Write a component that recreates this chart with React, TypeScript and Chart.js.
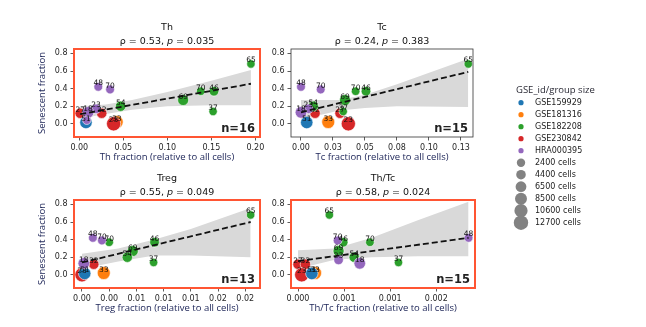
import React, { useEffect, useRef } from 'react';
import { Chart, registerables } from 'chart.js';

Chart.register(...registerables);

const SANS = "'DejaVu Sans', sans-serif";
const HUMANIST = "'Open Sans', sans-serif";

// Dataset colours
const groupNames = ['GSE159929', 'GSE181316', 'GSE182208', 'GSE230842', 'HRA000395'];
const groupColors = ['#1f77b4', '#ff7f0e', '#2ca02c', '#d62728', '#9467bd'];

// Samples (later entries are drawn on top)
const sampleGroup = [1, 3, 3, 3, 0, 2, 2, 2, 2, 2, 2, 4, 4, 4, 4, 4];
const sampleTag = ['33', '27', '32', '23', '51', '65', '70', '46', '37', '69', '54', '48', '70', '23', '18', ''];
const senescentFraction = [0.02, 0.12, 0.12, 0.0, 0.015, 0.68, 0.37, 0.37, 0.14, 0.27, 0.2, 0.42, 0.39, 0.17, 0.13, 0.04];
const groupCells = [10300, 5800, 5800, 12400, 9300, 2400, 2700, 4500, 2400, 6900, 5800, 3100, 3100, 4500, 7900, 2400];

// Immune-cell fractions per sample (null = sample not in panel)
const thFraction = [0.0425, 0.001, 0.0255, 0.039, 0.0076, 0.195, 0.138, 0.153, 0.152, 0.118, 0.047, 0.0216, 0.035, 0.019, 0.01, 0.0085];
const tcFraction = [0.0213, 0.0305, 0.011, 0.037, 0.0045, 0.1307, 0.0427, 0.0508, 0.033, 0.0344, 0.0096, 0.0, 0.0154, 0.0057, 0.0, null];
const tregFraction = [0.0024, null, 0.0013, 0.0, 0.0003, 0.0186, 0.003, 0.008, 0.0079, 0.0056, 0.005, 0.0012, 0.0022, null, 0.0002, null];
const thTcFraction = [0.000185, 0.0, 0.00008, 0.00004, 0.00015, 0.00034, 0.00078, 0.00049, 0.00109, 0.00044, 0.00061, 0.00185, 0.00043, 0.00044, 0.00067, null];

// Panel titles and correlation statistics
const panelNames = ['Th', 'Tc', 'Treg', 'Th/Tc'];
const panelRho = ['0.53', '0.24', '0.55', '0.58'];
const panelP = ['0.035', '0.383', '0.049', '0.024'];

// Axis ranges and ticks
const yRange = [-0.15, 0.85];
const yTicks = [0, 0.2, 0.4, 0.6, 0.8];
const yTickLabels = ['0.0', '0.2', '0.4', '0.6', '0.8'];

const thXRange = [-0.006, 0.2053];
const thXTicks = [0, 0.05, 0.1, 0.15, 0.2];
const thXTickLabels = ['0.00', '0.05', '0.10', '0.15', '0.20'];
const tcXRange = [-0.0078, 0.1344];
const tcXTicks = [0, 0.025, 0.05, 0.075, 0.1, 0.125];
const tcXTickLabels = ['0.00', '0.03', '0.05', '0.08', '0.10', '0.13'];
const tregXRange = [-0.00088, 0.01963];
const tregXTicks = [0, 0.003, 0.006, 0.009, 0.012, 0.015, 0.018];
const tregXTickLabels = ['0.00', '0.00', '0.01', '0.01', '0.01', '0.02', '0.02'];
const thTcXRange = [-0.000076, 0.00192];
const thTcXTicks = [0, 0.0005, 0.001, 0.0015];
const thTcXTickLabels = ['0.000', '0.001', '0.001', '0.002'];

// Regression fits (end points) and confidence bands
const thFitX = [0.001, 0.195];
const thFitY = [0.11, 0.455];
const thBandX = [0.001, 0.03, 0.06, 0.1, 0.15, 0.195];
const thBandLo = [0.06, 0.11, 0.16, 0.2, 0.21, 0.21];
const thBandHi = [0.2, 0.22, 0.27, 0.36, 0.49, 0.61];

const tcFitX = [0.0, 0.1307];
const tcFitY = [0.13, 0.59];
const tcBandX = [0.0, 0.03, 0.05, 0.075, 0.1307];
const tcBandLo = [0.05, 0.15, 0.18, 0.2, 0.19];
const tcBandHi = [0.27, 0.27, 0.33, 0.45, 0.74];

const tregFitX = [0.0, 0.0186];
const tregFitY = [0.14, 0.6];
const tregBandX = [0.0, 0.004, 0.008, 0.012, 0.0186];
const tregBandLo = [0.07, 0.15, 0.22, 0.22, 0.2];
const tregBandHi = [0.24, 0.3, 0.4, 0.52, 0.76];

const thTcFitX = [0.0, 0.00185];
const thTcFitY = [0.155, 0.42];
const thTcBandX = [0.0, 0.0004, 0.0008, 0.0013, 0.00185];
const thTcBandLo = [0.07, 0.17, 0.2, 0.21, 0.21];
const thTcBandHi = [0.28, 0.3, 0.42, 0.62, 0.83];

// Size legend
const legendCells = [2400, 4400, 6500, 8500, 10600, 12700];

const cellsToRadius = (c: number) => 4.2 + (3.0 * (c - 2400)) / (12700 - 2400);

type Box = { left: number; top: number; right: number; bottom: number };
type Frame = { x: number; y: number; w: number; h: number };

type PanelDef = {
  idx: number;
  xs: (number | null)[];
  xRange: number[];
  xTicks: number[];
  xTickLabels: string[];
  fitX: number[];
  fitY: number[];
  bandX: number[];
  bandLo: number[];
  bandHi: number[];
  frame: Frame;
  area: Box;
  highlight: boolean;
  yTitle: boolean;
  legend: boolean;
};

const panels: PanelDef[] = [
  {
    idx: 0, xs: thFraction, xRange: thXRange, xTicks: thXTicks, xTickLabels: thXTickLabels,
    fitX: thFitX, fitY: thFitY, bandX: thBandX, bandLo: thBandLo, bandHi: thBandHi,
    frame: { x: 0, y: 0, w: 268, h: 163 }, area: { left: 74, top: 49, right: 260, bottom: 137 },
    highlight: true, yTitle: true, legend: false,
  },
  {
    idx: 1, xs: tcFraction, xRange: tcXRange, xTicks: tcXTicks, xTickLabels: tcXTickLabels,
    fitX: tcFitX, fitY: tcFitY, bandX: tcBandX, bandLo: tcBandLo, bandHi: tcBandHi,
    frame: { x: 268, y: 0, w: 378, h: 240 }, area: { left: 23, top: 49, right: 205, bottom: 137 },
    highlight: false, yTitle: false, legend: true,
  },
  {
    idx: 2, xs: tregFraction, xRange: tregXRange, xTicks: tregXTicks, xTickLabels: tregXTickLabels,
    fitX: tregFitX, fitY: tregFitY, bandX: tregBandX, bandLo: tregBandLo, bandHi: tregBandHi,
    frame: { x: 0, y: 163, w: 268, h: 164 }, area: { left: 74, top: 37, right: 260, bottom: 125 },
    highlight: true, yTitle: true, legend: false,
  },
  {
    idx: 3, xs: thTcFraction, xRange: thTcXRange, xTicks: thTcXTicks, xTickLabels: thTcXTickLabels,
    fitX: thTcFitX, fitY: thTcFitY, bandX: thTcBandX, bandLo: thTcBandLo, bandHi: thTcBandHi,
    frame: { x: 268, y: 163, w: 220, h: 164 }, area: { left: 23, top: 37, right: 207, bottom: 125 },
    highlight: true, yTitle: false, legend: false,
  },
];

function drawLegend(ctx: CanvasRenderingContext2D, ox: number) {
  ctx.save();
  ctx.fillStyle = '#2a2a35';
  ctx.font = `9.5px ${HUMANIST}`;
  ctx.textAlign = 'left';
  ctx.textBaseline = 'alphabetic';
  ctx.fillText('GSE_id/group size', 516 - ox, 93);
  const mx = 521 - ox;
  const tx = 535 - ox;
  ctx.font = `8px ${SANS}`;
  ctx.textBaseline = 'middle';
  let y = 102.7;
  groupNames.forEach((name, i) => {
    ctx.beginPath();
    ctx.arc(mx, y, 2.6, 0, Math.PI * 2);
    ctx.fillStyle = groupColors[i];
    ctx.fill();
    ctx.fillStyle = '#222';
    ctx.fillText(name, tx, y);
    y += 12;
  });
  legendCells.forEach((c) => {
    ctx.beginPath();
    ctx.arc(mx, y, cellsToRadius(c), 0, Math.PI * 2);
    ctx.fillStyle = '#828282';
    ctx.fill();
    ctx.fillStyle = '#222';
    ctx.fillText(`${c} cells`, tx, y);
    y += 12;
  });
  ctx.restore();
}

function PanelChart({ def }: { def: PanelDef }) {
  const ref = useRef<HTMLCanvasElement | null>(null);

  useEffect(() => {
    const canvas = ref.current;
    if (!canvas) return;
    const { frame, area } = def;

    const keep = def.xs.map((x, i) => (x === null ? -1 : i)).filter((i) => i >= 0);
    const points = keep.map((i) => ({ x: def.xs[i] as number, y: senescentFraction[i] }));
    const colors = keep.map((i) => groupColors[sampleGroup[i]]);
    const radii = keep.map((i) => cellsToRadius(groupCells[i]));
    const tags = keep.map((i) => sampleTag[i]);
    const n = keep.length;

    const bandLo = def.bandX.map((x, i) => ({ x, y: def.bandLo[i] }));
    const bandHi = def.bandX.map((x, i) => ({ x, y: def.bandHi[i] }));
    const fit = def.fitX.map((x, i) => ({ x, y: def.fitY[i] }));

    const name = panelNames[def.idx];

    const deco = {
      id: 'panelDeco',
      afterDatasetsDraw(chart: any) {
        const ctx: CanvasRenderingContext2D = chart.ctx;
        const meta = chart.getDatasetMeta(2);
        ctx.save();
        ctx.fillStyle = '#111';
        ctx.font = `7.5px ${SANS}`;
        ctx.textAlign = 'center';
        ctx.textBaseline = 'alphabetic';
        meta.data.forEach((el: any, i: number) => {
          if (tags[i]) ctx.fillText(tags[i], el.x, el.y - 1.5);
        });
        ctx.restore();
      },
      afterDraw(chart: any) {
        const ctx: CanvasRenderingContext2D = chart.ctx;
        const ca = chart.chartArea;
        const cx = (ca.left + ca.right) / 2;
        ctx.save();
        // frame
        if (def.highlight) {
          ctx.strokeStyle = '#ff5533';
          ctx.lineWidth = 2;
        } else {
          ctx.strokeStyle = '#333';
          ctx.lineWidth = 0.8;
        }
        ctx.strokeRect(ca.left, ca.top, ca.right - ca.left, ca.bottom - ca.top);

        // titles
        ctx.fillStyle = '#111';
        ctx.textBaseline = 'alphabetic';
        ctx.textAlign = 'center';
        ctx.font = `9.5px ${SANS}`;
        ctx.fillText(name, cx, ca.top - 19);
        const a = `\u03c1 = ${panelRho[def.idx]}, `;
        const b = 'p';
        const c = ` = ${panelP[def.idx]}`;
        ctx.font = `9.5px ${SANS}`;
        const wa = ctx.measureText(a).width;
        const wc = ctx.measureText(c).width;
        ctx.font = `italic 9.5px ${SANS}`;
        const wb = ctx.measureText(b).width;
        const x0 = cx - (wa + wb + wc) / 2;
        ctx.textAlign = 'left';
        ctx.font = `9.5px ${SANS}`;
        ctx.fillText(a, x0, ca.top - 5);
        ctx.font = `italic 9.5px ${SANS}`;
        ctx.fillText(b, x0 + wa, ca.top - 5);
        ctx.font = `9.5px ${SANS}`;
        ctx.fillText(c, x0 + wa + wb, ca.top - 5);

        // n label
        ctx.font = `bold 11.5px ${SANS}`;
        ctx.textAlign = 'right';
        ctx.fillStyle = '#222';
        ctx.fillText(`n=${n}`, ca.right - 5, ca.bottom - 5);

        // axis titles
        ctx.fillStyle = '#20285a';
        ctx.font = `9.5px ${HUMANIST}`;
        ctx.textAlign = 'center';
        ctx.textBaseline = 'middle';
        ctx.fillText(`${name} fraction (relative to all cells)`, cx, ca.bottom + 20);
        if (def.yTitle) {
          ctx.save();
          ctx.translate(42, (ca.top + ca.bottom) / 2);
          ctx.rotate(-Math.PI / 2);
          ctx.fillText('Senescent fraction', 0, 0);
          ctx.restore();
        }
        ctx.restore();
        if (def.legend) drawLegend(ctx, frame.x);
      },
    };

    const tickFont = { family: SANS, size: 8 };
    const grid = {
      drawOnChartArea: false,
      drawTicks: true,
      tickLength: 3.5,
      tickWidth: 0.8,
      tickColor: '#333',
      color: '#333',
    };

    const chart = new Chart(canvas, {
      type: 'scatter',
      data: {
        datasets: [
          {
            type: 'line',
            data: bandLo,
            borderColor: 'rgba(0,0,0,0)',
            borderWidth: 0,
            pointRadius: 0,
            fill: false,
            order: 3,
          } as any,
          {
            type: 'line',
            data: bandHi,
            borderColor: 'rgba(0,0,0,0)',
            borderWidth: 0,
            pointRadius: 0,
            fill: '-1',
            backgroundColor: '#d9d9d9',
            order: 3,
          } as any,
          {
            type: 'scatter',
            data: points,
            pointRadius: radii,
            pointBackgroundColor: colors,
            pointBorderColor: '#ffffff',
            pointBorderWidth: 0.6,
            order: 2,
          } as any,
          {
            type: 'line',
            data: fit,
            borderColor: '#111',
            borderWidth: 1.8,
            borderDash: [6, 3],
            pointRadius: 0,
            fill: false,
            order: 1,
          } as any,
        ],
      },
      options: {
        responsive: false,
        animation: false,
        devicePixelRatio: 1,
        events: [],
        layout: { padding: { left: 0, top: area.top, right: frame.w - area.right, bottom: 0 } },
        plugins: { legend: { display: false }, tooltip: { enabled: false } },
        scales: {
          x: {
            type: 'linear',
            min: def.xRange[0],
            max: def.xRange[1],
            afterBuildTicks: (s: any) => {
              s.ticks = def.xTicks.map((v) => ({ value: v }));
            },
            afterFit: (s: any) => {
              s.height = frame.h - area.bottom;
            },
            ticks: {
              font: tickFont,
              color: '#262626',
              padding: 2.5,
              autoSkip: false,
              maxRotation: 0,
              callback: (_v: any, i: number) => def.xTickLabels[i],
            },
            grid,
            border: { display: false },
          },
          y: {
            type: 'linear',
            min: yRange[0],
            max: yRange[1],
            afterBuildTicks: (s: any) => {
              s.ticks = yTicks.map((v) => ({ value: v }));
            },
            afterFit: (s: any) => {
              s.width = area.left;
            },
            ticks: {
              font: tickFont,
              color: '#262626',
              padding: 3,
              autoSkip: false,
              callback: (_v: any, i: number) => yTickLabels[i],
            },
            grid,
            border: { display: false },
          },
        },
      } as any,
      plugins: [deco as any],
    });

    return () => chart.destroy();
  }, [def]);

  const { frame } = def;
  return (
    <canvas
      ref={ref}
      width={frame.w}
      height={frame.h}
      style={{ position: 'absolute', left: frame.x, top: frame.y, width: frame.w, height: frame.h, display: 'block' }}
    />
  );
}

export default function App() {
  return (
    <div style={{ position: 'absolute', left: 0, top: 0, width: 646, height: 327, background: '#fff', overflow: 'hidden' }}>
      {panels.map((p) => (
        <PanelChart key={p.idx} def={p} />
      ))}
    </div>
  );
}
